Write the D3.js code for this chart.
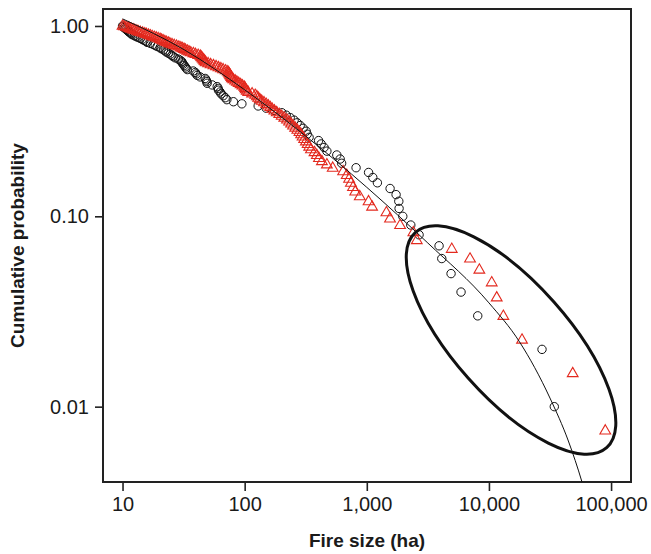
<!DOCTYPE html>
<html>
<head>
<meta charset="utf-8">
<script src="https://cdn.jsdelivr.net/npm/d3@7"></script>
<style>
  body { margin: 0; background: #fff; }
  #chart { width: 651px; height: 554px; }
  text { font-family: "Liberation Sans", Arial, Helvetica, sans-serif; }
</style>
</head>
<body>
<div id="chart"></div>
<script>
// fire sizes (ha), sorted, black circles (100 fires)
var circleSizes = [
  10, 10.1, 10.3, 10.5, 10.7, 10.9, 11.1, 11.3, 11.6, 11.8,
  12.0, 12.5, 12.9, 13.4, 14.0, 14.5, 15.0, 15.6, 15.9, 16.9,
  17.8, 18.5, 19.2, 20.3, 20.7, 21.6, 22.4, 22.8, 23.7, 24.6,
  25.4, 26.0, 27.0, 28.6, 29.7, 30.6, 30.8, 31.4, 32.0, 32.6,
  33.2, 33.9, 37.9, 39.4, 40.1, 40.9, 43.2, 47.5, 48.4, 49.0,
  49.3, 54.2, 59.6, 60.7, 61.0, 63.0, 64.2, 66.7, 69.3, 71.5,
  80.9, 94.9, 129, 150, 174, 202, 219, 236, 254, 269,
  285, 301, 319, 325, 337, 403, 423, 447, 471, 568,
  605, 622, 817, 1034, 1120, 1221, 1551, 1737, 1828, 1838,
  1971, 2292, 2679, 3906, 4110, 4896, 5911, 8097, 27200, 34290
];

// fire sizes (ha), sorted, red triangles (134 fires)
var triangleSizes = [
  10.0, 10.3, 10.7, 11.1, 11.4, 11.8, 12.2, 12.6, 13.1, 13.5,
  14.0, 14.6, 15.2, 15.7, 16.3, 16.9, 17.5, 18.2, 18.9, 19.6,
  20.3, 20.9, 21.5, 22.2, 22.9, 23.7, 24.4, 25.4, 26.5, 27.7,
  28.9, 30.0, 30.9, 31.9, 32.8, 33.9, 35.0, 36.2, 38.0, 39.6,
  41.6, 43.4, 44.0, 44.7, 45.3, 46.0, 46.7, 47.4, 48.1, 50.2,
  52.6, 55.5, 58.3, 61.0, 63.9, 66.6, 69.8, 72.7, 74.0, 74.8,
  75.8, 76.8, 77.7, 78.7, 80.7, 83.5, 86.3, 89.3, 92.6, 95.8,
  99.2, 101, 102, 104, 107, 115, 122, 126, 129, 133,
  138, 144, 150, 156, 162, 168, 175, 183, 192, 201,
  211, 222, 231, 240, 249, 259, 270, 281, 290, 298,
  307, 317, 328, 338, 349, 373, 390, 406, 429, 471,
  526, 640, 685, 716, 741, 771, 804, 876, 1034, 1105,
  1447, 1549, 1873, 2406, 2566, 4961, 7001, 8345, 10540, 11580,
  13120, 18660, 48520, 89660
];

// fitted curve
var fitX = [10, 32, 100, 316, 1000, 3160, 10000, 17800, 31600, 44700, 57800, 70800];
var fitY = [1.09, 0.75, 0.462, 0.264, 0.142, 0.0724, 0.0351, 0.0219, 0.0111, 0.0066, 0.00402, 0.00251];

// tick values
var xTicks = [10, 100, 1000, 10000, 100000];
var yTicks = [1, 0.1, 0.01];
var yTickLabels = ["1.00", "0.10", "0.01"];

// centre of the ellipse around the largest fires
var highlightCenter = [15170, 0.0224];

// cumulative probability = share of fires at least this big
function ccdf(sizes) {
  var n = sizes.length;
  return sizes.map(function(s, i) { return { x: s, y: (n - i) / n }; });
}

var margin = { top: 9, right: 20, bottom: 72, left: 103 };
var width = 651 - margin.left - margin.right;
var height = 554 - margin.top - margin.bottom;

var svg = d3.select("#chart").append("svg")
    .attr("width", 651)
    .attr("height", 554);

var g = svg.append("g")
    .attr("transform", "translate(" + margin.left + "," + margin.top + ")");

var x = d3.scaleLog().domain([6.92, 145600]).range([0, width]);
var y = d3.scaleLog().domain([0.00402, 1.228]).range([height, 0]);

g.append("clipPath").attr("id", "plotclip")
  .append("rect").attr("width", width).attr("height", height);

// axes
var xAxis = d3.axisBottom(x).tickValues(xTicks).tickFormat(d3.format(",")).tickSize(9).tickPadding(6);
var yAxis = d3.axisLeft(y).tickValues(yTicks).tickFormat(function(d, i) { return yTickLabels[i]; }).tickSize(8).tickPadding(6);

var gx = g.append("g").attr("transform", "translate(0," + height + ")").call(xAxis);
var gy = g.append("g").call(yAxis);

[gx, gy].forEach(function(a) {
  a.select(".domain").remove();
  a.selectAll(".tick line").attr("stroke", "#222").attr("stroke-width", 1.6);
  a.selectAll(".tick text").attr("fill", "#1a1a1a").style("font-size", "20px");
});

// frame
g.append("rect")
    .attr("width", width)
    .attr("height", height)
    .attr("fill", "none")
    .attr("stroke", "#222")
    .attr("stroke-width", 2);

var plot = g.append("g").attr("clip-path", "url(#plotclip)");

// black circles
plot.selectAll(".circ")
    .data(ccdf(circleSizes))
  .enter().append("circle")
    .attr("cx", function(d) { return x(d.x); })
    .attr("cy", function(d) { return y(d.y); })
    .attr("r", 4.2)
    .attr("fill", "none")
    .attr("stroke", "#111")
    .attr("stroke-width", 1);

// red triangles
var tri = d3.symbol().type(d3.symbolTriangle).size(50);
plot.selectAll(".tri")
    .data(ccdf(triangleSizes))
  .enter().append("path")
    .attr("d", tri)
    .attr("transform", function(d) { return "translate(" + x(d.x) + "," + y(d.y) + ")"; })
    .attr("fill", "none")
    .attr("stroke", "#e3291e")
    .attr("stroke-width", 1.1);

// fitted line
var fit = fitX.map(function(v, i) { return [v, fitY[i]]; });
plot.append("path")
    .datum(fit)
    .attr("d", d3.line()
        .x(function(d) { return x(d[0]); })
        .y(function(d) { return y(d[1]); })
        .curve(d3.curveMonotoneX))
    .attr("fill", "none")
    .attr("stroke", "#111")
    .attr("stroke-width", 1);

// ellipse
g.append("ellipse")
    .attr("transform", "translate(" + x(highlightCenter[0]) + "," + y(highlightCenter[1]) + ") rotate(48.4)")
    .attr("rx", 144)
    .attr("ry", 57.4)
    .attr("fill", "none")
    .attr("stroke", "#111")
    .attr("stroke-width", 3);

// axis titles
svg.append("text")
    .attr("x", margin.left + width / 2)
    .attr("y", 547)
    .attr("text-anchor", "middle")
    .style("font-size", "19px")
    .style("font-weight", "bold")
    .attr("fill", "#1a1a1a")
    .text("Fire size (ha)");

svg.append("text")
    .attr("transform", "translate(24," + (margin.top + height / 2) + ") rotate(-90)")
    .attr("text-anchor", "middle")
    .style("font-size", "19px")
    .style("font-weight", "bold")
    .attr("fill", "#1a1a1a")
    .text("Cumulative probability");
</script>
</body>
</html>
